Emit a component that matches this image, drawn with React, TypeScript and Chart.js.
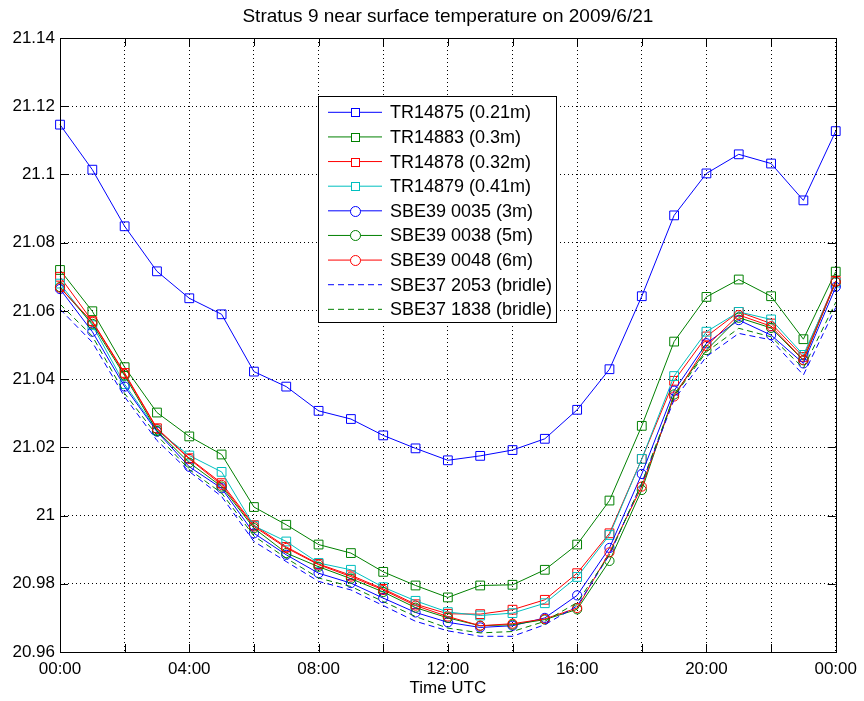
import React, { useEffect, useRef } from "react";
import { Chart, registerables } from "chart.js";

Chart.register(...registerables);

const TITLE = "Stratus 9 near surface temperature on 2009/6/21";
const X_TITLE = "Time UTC";
const FONT = "'Liberation Sans', Arial, sans-serif";

const HOURS = [0, 1, 2, 3, 4, 5, 6, 7, 8, 9, 10, 11, 12, 13, 14, 15, 16, 17, 18, 19, 20, 21, 22, 23, 24];
const X_TICK_LABELS = ["00:00", "04:00", "08:00", "12:00", "16:00", "20:00", "00:00"];
const Y_TICK_LABELS = ["20.96", "20.98", "21", "21.02", "21.04", "21.06", "21.08", "21.1", "21.12", "21.14"];

const SERIES_NAMES = [
  "TR14875 (0.21m)",
  "TR14883 (0.3m)",
  "TR14878 (0.32m)",
  "TR14879 (0.41m)",
  "SBE39 0035 (3m)",
  "SBE39 0038 (5m)",
  "SBE39 0048 (6m)",
  "SBE37 2053 (bridle)",
  "SBE37 1838 (bridle)",
];

const TR14875 = [21.1146, 21.1014, 21.0848, 21.0716, 21.0637, 21.059, 21.0422, 21.0378, 21.0307, 21.0283, 21.0235, 21.0197, 21.0162, 21.0175, 21.0192, 21.0225, 21.031, 21.0429, 21.0643, 21.088, 21.1003, 21.1059, 21.1032, 21.0924, 21.1127];
const TR14883 = [21.072, 21.0599, 21.0435, 21.0302, 21.0232, 21.0179, 21.0025, 20.9973, 20.9915, 20.989, 20.9835, 20.9795, 20.976, 20.9795, 20.9797, 20.9841, 20.9915, 21.0044, 21.0263, 21.051, 21.0641, 21.0692, 21.0643, 21.0517, 21.0715];
const TR14878 = [21.07, 21.057, 21.0418, 21.0256, 21.0168, 21.0095, 20.9972, 20.9908, 20.9858, 20.9825, 20.9785, 20.974, 20.9712, 20.9711, 20.9724, 20.9753, 20.9831, 20.9948, 21.0166, 21.0395, 21.0525, 21.0597, 21.0563, 21.0465, 21.0688];
const TR14879 = [21.068, 21.0558, 21.0385, 21.025, 21.0176, 21.0128, 20.997, 20.9924, 20.9861, 20.9841, 20.979, 20.975, 20.9717, 20.9707, 20.9714, 20.9743, 20.982, 20.9943, 21.0166, 21.0409, 21.0539, 21.0597, 21.0575, 21.0471, 21.0683];
const SBE39_0035 = [21.0664, 21.0539, 21.0378, 21.0246, 21.0143, 21.008, 20.9948, 20.9885, 20.9831, 20.9802, 20.9758, 20.9716, 20.9687, 20.9672, 20.9677, 20.97, 20.9766, 20.9905, 21.0122, 21.0366, 21.0505, 21.0573, 21.0529, 21.0446, 21.067];
const SBE39_0038 = [21.067, 21.0562, 21.041, 21.0248, 21.0155, 21.0085, 20.9963, 20.989, 20.985, 20.9815, 20.9776, 20.973, 20.97, 20.9677, 20.968, 20.9695, 20.9725, 20.9867, 21.0075, 21.0355, 21.0485, 21.058, 21.055, 21.0455, 21.0685];
const SBE39_0048 = [21.0668, 21.0568, 21.0415, 21.0254, 21.0166, 21.009, 20.9968, 20.9905, 20.9856, 20.9821, 20.9782, 20.9736, 20.9704, 20.9677, 20.9683, 20.9697, 20.9729, 20.9892, 21.0085, 21.0349, 21.0497, 21.0588, 21.0555, 21.0456, 21.0685];
const SBE37_2053 = [21.0605, 21.0508, 21.0348, 21.022, 21.0129, 21.0056, 20.9924, 20.9865, 20.9807, 20.9782, 20.9736, 20.969, 20.9662, 20.9646, 20.9646, 20.968, 20.9735, 20.9885, 21.0095, 21.034, 21.0466, 21.0534, 21.0515, 21.0412, 21.061];
const SBE37_1838 = [21.062, 21.0526, 21.0358, 21.0235, 21.0135, 21.0066, 20.994, 20.9875, 20.9817, 20.9792, 20.9748, 20.9704, 20.967, 20.9656, 20.966, 20.969, 20.9745, 20.9885, 21.0095, 21.035, 21.048, 21.0549, 21.0524, 21.0432, 21.0625];

const SERIES_VALUES = [TR14875, TR14883, TR14878, TR14879, SBE39_0035, SBE39_0038, SBE39_0048, SBE37_2053, SBE37_1838];

const BLUE = "rgb(0,0,255)";
const GREEN = "rgb(0,128,0)";
const RED = "rgb(255,0,0)";
const CYAN = "rgb(0,191,191)";
const SERIES_COLORS = [BLUE, GREEN, RED, CYAN, BLUE, GREEN, RED, BLUE, GREEN];
const SERIES_MARKERS = ["rect", "rect", "rect", "rect", "circle", "circle", "circle", "none", "none"];
const SERIES_DASHED = [false, false, false, false, false, false, false, true, true];

const framePlugin = {
  id: "matlabFrame",
  afterDatasetsDraw(chart: any) {
    const ctx = chart.ctx;
    const ca = chart.chartArea;
    ctx.save();
    ctx.strokeStyle = "#000";
    ctx.lineWidth = 1;
    ctx.setLineDash([]);
    const tl = 8;
    const xs = chart.scales.x;
    const ys = chart.scales.y;
    ctx.beginPath();
    xs.ticks.forEach((t: any) => {
      const px = Math.round(xs.getPixelForValue(t.value)) + 0.5;
      ctx.moveTo(px, ca.bottom);
      ctx.lineTo(px, ca.bottom - tl);
      ctx.moveTo(px, ca.top);
      ctx.lineTo(px, ca.top + tl);
    });
    ys.ticks.forEach((t: any) => {
      const py = Math.round(ys.getPixelForValue(t.value)) + 0.5;
      ctx.moveTo(ca.left, py);
      ctx.lineTo(ca.left + tl, py);
      ctx.moveTo(ca.right, py);
      ctx.lineTo(ca.right - tl, py);
    });
    ctx.stroke();
    ctx.strokeRect(Math.round(ca.left) + 0.5, Math.round(ca.top) + 0.5, Math.round(ca.right - ca.left), Math.round(ca.bottom - ca.top));

    // title centred over the plot area
    ctx.fillStyle = "#000";
    ctx.font = `19px ${FONT}`;
    ctx.textAlign = "center";
    ctx.textBaseline = "middle";
    ctx.fillText(TITLE, (ca.left + ca.right) / 2, 17);

    // legend box
    const x0 = Math.round(ca.left + 258);
    const y0 = Math.round(ca.top + 58);
    const w = 238;
    const h = 226;
    ctx.fillStyle = "#fff";
    ctx.fillRect(x0, y0, w, h);
    ctx.strokeStyle = "#000";
    ctx.strokeRect(x0 + 0.5, y0 + 0.5, w, h);
    ctx.font = `18px ${FONT}`;
    ctx.textAlign = "left";
    ctx.textBaseline = "middle";
    chart.data.datasets.forEach((ds: any, i: number) => {
      const y = y0 + 16.3 + i * 24.63;
      ctx.strokeStyle = ds.borderColor;
      ctx.lineWidth = 1;
      ctx.setLineDash(ds.borderDash || []);
      ctx.beginPath();
      ctx.moveTo(x0 + 10, y);
      ctx.lineTo(x0 + 64, y);
      ctx.stroke();
      ctx.setLineDash([]);
      const mx = x0 + 37.5;
      const my = Math.round(y) + 0.5;
      const marker = SERIES_MARKERS[i];
      if (marker === "rect") {
        ctx.fillStyle = "#fff";
        ctx.fillRect(mx - 4, my - 4, 8, 8);
        ctx.strokeRect(mx - 4, my - 4, 8, 8);
      } else if (marker === "circle") {
        ctx.fillStyle = "#fff";
        ctx.beginPath();
        ctx.arc(mx, my, 5, 0, Math.PI * 2);
        ctx.fill();
        ctx.stroke();
      }
      ctx.fillStyle = "#000";
      ctx.fillText(ds.label, x0 + 72, y + 1);
    });
    ctx.restore();
  },
};

export default function App() {
  const canvasRef = useRef<HTMLCanvasElement | null>(null);

  useEffect(() => {
    if (!canvasRef.current) return;
    const datasets = SERIES_NAMES.map((name, i) => ({
      label: name,
      data: HOURS.map((h, j) => ({ x: h, y: SERIES_VALUES[i][j] })),
      borderColor: SERIES_COLORS[i],
      backgroundColor: "rgba(0,0,0,0)",
      borderWidth: 1,
      borderDash: SERIES_DASHED[i] ? [6, 4] : [],
      pointStyle: SERIES_MARKERS[i] === "rect" ? "rect" : "circle",
      pointRadius: SERIES_MARKERS[i] === "rect" ? 6.2 : SERIES_MARKERS[i] === "circle" ? 4.6 : 0,
      pointBorderWidth: 1,
      pointBorderColor: SERIES_COLORS[i],
      pointBackgroundColor: "rgba(0,0,0,0)",
      tension: 0,
      fill: false,
      clip: false as any,
      order: SERIES_NAMES.length - i,
    }));

    const chart = new Chart(canvasRef.current, {
      type: "line",
      data: { datasets },
      plugins: [framePlugin],
      options: {
        animation: false,
        responsive: true,
        maintainAspectRatio: false,
        layout: { padding: { top: 38, right: 26, bottom: 0, left: 0 } },
        plugins: {
          legend: { display: false },
          title: { display: false },
          tooltip: { enabled: false },
        },
        scales: {
          x: {
            type: "linear",
            min: 0,
            max: 24,
            afterFit: (s: any) => {
              s.height = 49;
            },
            ticks: {
              stepSize: 2,
              autoSkip: false,
              maxRotation: 0,
              padding: 7,
              color: "#000",
              font: { family: FONT, size: 17 },
              callback: (v: any) => {
                const n = Number(v);
                return n % 4 === 0 ? X_TICK_LABELS[n / 4] : "";
              },
            },
            grid: { color: "#000", lineWidth: 1, drawTicks: false },
            border: { display: false, dash: [1, 3] },
            title: {
              display: true,
              text: X_TITLE,
              color: "#000",
              font: { family: FONT, size: 17 },
              padding: { top: 0, bottom: 2 },
            },
          },
          y: {
            type: "linear",
            min: 20.96,
            max: 21.14,
            afterFit: (s: any) => {
              s.width = 60;
            },
            ticks: {
              stepSize: 0.02,
              padding: 5,
              color: "#000",
              font: { family: FONT, size: 17 },
              callback: (v: any) => {
                const n = Math.round(Number(v) * 100) / 100;
                const lab = Y_TICK_LABELS.find((l) => Number(l) === n);
                return lab ?? "";
              },
            },
            grid: { color: "#000", lineWidth: 1, drawTicks: false },
            border: { display: false, dash: [1, 3] },
          },
        },
      },
    });
    return () => chart.destroy();
  }, []);

  return (
    <div style={{ position: "fixed", left: 0, top: 0, width: 864, height: 701, background: "#fff" }}>
      <canvas ref={canvasRef} />
    </div>
  );
}
